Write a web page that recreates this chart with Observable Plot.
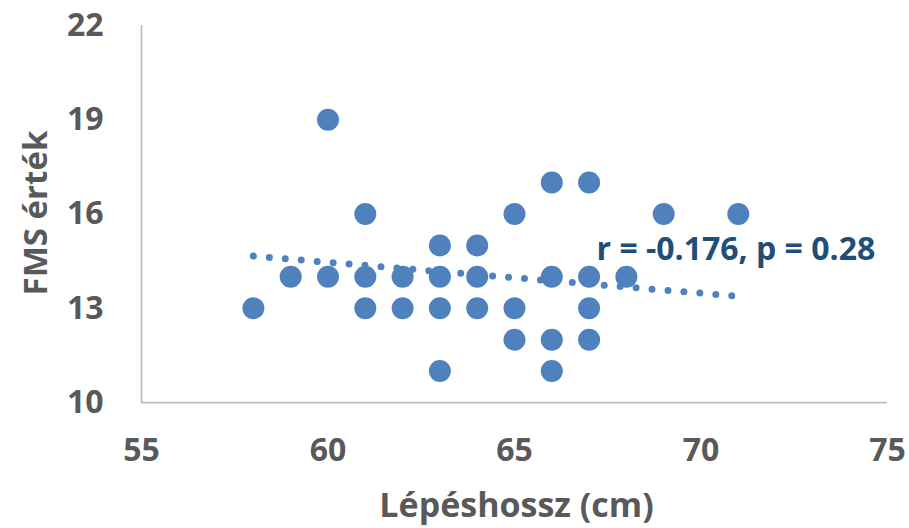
<!DOCTYPE html>
<html><head><meta charset="utf-8">
<script src="https://cdn.jsdelivr.net/npm/d3@7"></script>
<script src="https://cdn.jsdelivr.net/npm/@observablehq/plot@0.6"></script>
<style>body{margin:0;background:#fff}</style>
</head><body><div id="chart"></div>
<script>
// Data
const stepLength = [58, 59, 60, 60, 61, 61, 61, 62, 62, 63, 63, 63, 63, 64, 64, 64, 65, 65, 65, 66, 66, 66, 66, 67, 67, 67, 67, 68, 69, 71];
const fmsScore   = [13, 14, 14, 19, 13, 14, 16, 13, 14, 11, 13, 14, 15, 13, 14, 15, 12, 13, 16, 11, 12, 14, 17, 12, 13, 14, 17, 14, 16, 16];
const xTicks = [55, 60, 65, 70, 75];
const yTicks = [10, 13, 16, 19, 22];
const trendX = [58, 71];
const trendY = [14.66, 13.38];
const annotationText = ["r = -0.176, p = 0.28"];
const annotationX = [67.2];
const annotationY = [14.87];
const xTitle = "Lépéshossz (cm)";
const yTitle = "FMS érték";

const points = stepLength.map((x, i) => ({x, y: fmsScore[i]}));
const trend = trendX.map((x, i) => ({x, y: trendY[i]}));
const notes = annotationText.map((t, i) => ({t, x: annotationX[i], y: annotationY[i]}));

const FONT = "'Open Sans', 'Noto Sans', sans-serif";
const GRAY = "#595959";
const BLUE = "#4f81bd";

const chart = Plot.plot({
  width: 909,
  height: 528,
  marginLeft: 141,
  marginRight: 22,
  marginTop: 25,
  marginBottom: 126,
  style: {fontFamily: FONT, fontWeight: "bold", color: GRAY, background: "#fff"},
  x: {domain: [55, 75], ticks: xTicks},
  y: {domain: [10, 22], ticks: yTicks},
  marks: [
    Plot.ruleX([55], {stroke: "#bfbfbf", strokeWidth: 1.75}),
    Plot.ruleY([10], {stroke: "#bfbfbf", strokeWidth: 1.75}),
    Plot.axisX(xTicks, {tickSize: 0, tickPadding: 36, fontSize: 32, fontWeight: "bold", fill: GRAY, label: null}),
    Plot.axisY(yTicks, {tickSize: 0, tickPadding: 38, fontSize: 32, fontWeight: "bold", fill: GRAY, label: null}),
    Plot.dot(points, {x: "x", y: "y", r: 11, fill: BLUE, stroke: "none"}),
    Plot.line(trend, {x: "x", y: "y", stroke: BLUE, strokeWidth: 7, strokeLinecap: "round", strokeDasharray: "0 16"}),
    Plot.text(notes, {x: "x", y: "y", text: "t", textAnchor: "start", fontSize: 32, fontWeight: "bold", fill: "#1f4e79"}),
    Plot.text([xTitle], {frameAnchor: "bottom", textAnchor: "middle", lineAnchor: "top", dy: 90, dx: 2, fontSize: 34, fontWeight: "bold", fill: GRAY}),
    Plot.text([yTitle], {frameAnchor: "left", textAnchor: "middle", rotate: -90, dx: -105, dy: -1, fontSize: 33, fontWeight: "bold", fill: GRAY})
  ]
});
document.getElementById("chart").appendChild(chart);
</script>
</body></html>
